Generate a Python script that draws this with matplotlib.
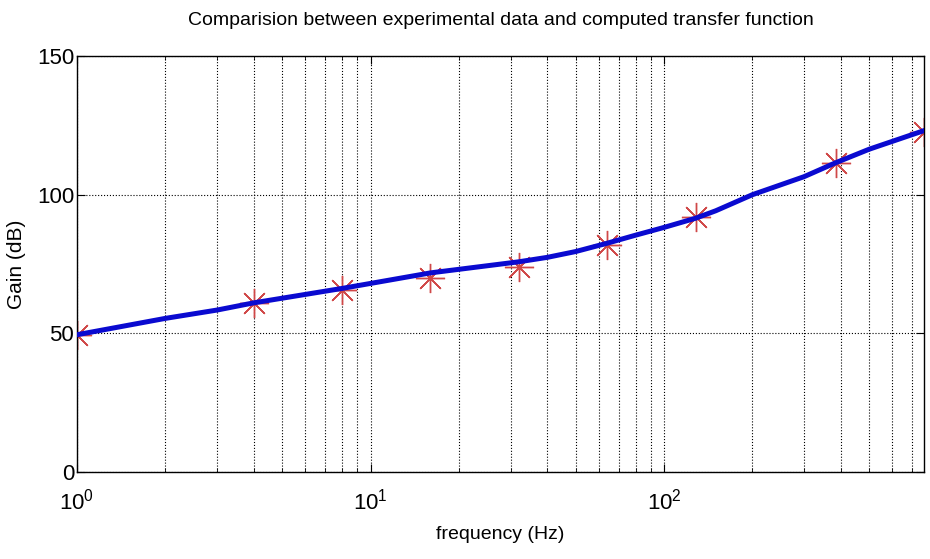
import matplotlib
matplotlib.use("Agg")
import matplotlib.pyplot as plt
from matplotlib.ticker import LogLocator, NullFormatter

# measured points (red asterisks)
freq_meas = [1, 4, 8, 16, 32, 64, 128, 384, 768]
gain_meas = [49.5, 60.8, 65.6, 70.0, 74.0, 81.9, 92.0, 111.3, 122.7]

# computed transfer function (blue line)
freq_tf = [1, 2, 3, 4, 8, 16, 32, 40, 50, 64, 80, 100, 128, 150, 200, 300, 384, 500, 768]
gain_tf = [49.5, 55.4, 58.4, 61.0, 66.2, 71.8, 75.8, 77.4, 79.5, 82.5, 85.4, 88.2, 91.5,
           94.2, 100.0, 106.5, 111.5, 116.4, 123.1]

plt.rcParams['font.family'] = ['Liberation Sans Narrow', 'Liberation Sans', 'DejaVu Sans']

fig = plt.figure(figsize=(9.3, 5.59), dpi=100)
ax = fig.add_axes([0.0828, 0.1556, 0.9107, 0.7442])

ax.semilogx(freq_meas, gain_meas, linestyle='none', marker=(8, 2, 0),
            markersize=21, markeredgewidth=1.0, color='#d04848', zorder=2)
ax.semilogx(freq_tf, gain_tf, color='#0a0ad0', linewidth=3.6, zorder=3)

ax.set_xlim(1, 768)
ax.set_ylim(0, 150)
ax.set_yticks([0, 50, 100, 150])
ax.xaxis.set_major_locator(LogLocator(base=10, numticks=10))
ax.xaxis.set_minor_locator(LogLocator(base=10, subs=range(2, 10), numticks=20))
ax.xaxis.set_minor_formatter(NullFormatter())

ax.grid(True, which='major', axis='both', linestyle=':', color='black', linewidth=0.8)
ax.grid(True, which='minor', axis='x', linestyle=':', color='black', linewidth=0.8)

ax.tick_params(which='both', direction='in', top=True, right=True, labelsize=16)
ax.tick_params(axis='y', pad=2)
ax.tick_params(axis='x', pad=12)
ax.tick_params(which='major', length=6)
ax.tick_params(which='minor', length=3)

for s in ax.spines.values():
    s.set_linewidth(1.0)

ax.set_title('Comparision between experimental data and computed transfer function',
             fontsize=14, pad=22)
ax.set_xlabel('frequency (Hz)', fontsize=14, labelpad=8)
ax.set_ylabel('Gain (dB)', fontsize=15, labelpad=8)

plt.savefig('out.png', dpi=100)
